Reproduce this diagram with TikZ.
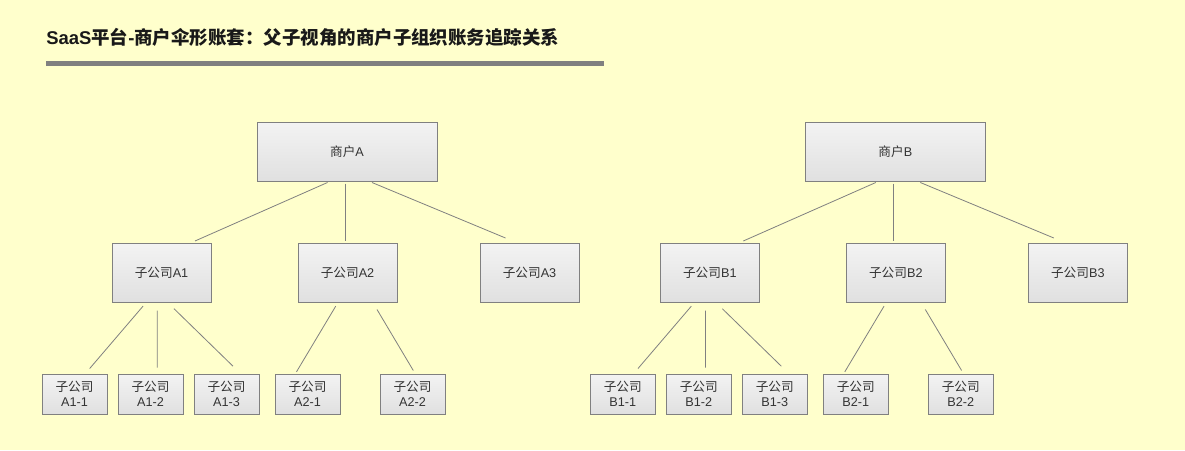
\documentclass[tikz,border=0pt]{standalone}
\usepackage{fontspec}
\setmainfont{Liberation Sans}
\newfontfamily\cjk{Noto Sans CJK SC}
\usetikzlibrary{calc}
\definecolor{paper}{HTML}{FFFFCC}
\definecolor{boxline}{HTML}{808080}
\definecolor{boxtop}{HTML}{F3F3F3}
\definecolor{boxbottom}{HTML}{E0E0E0}
\definecolor{boxtext}{HTML}{333333}
\tikzset{
    % Title
    title/.style={anchor=base west,inner sep=0pt,text=black!90,font=\fontsize{13.85}{16}\selectfont\bfseries},
    title rule/.style={fill=boxline},
    %
    % Boxes
    box/.style={draw=boxline,line width=.75pt,top color=boxtop,bottom color=boxbottom,
        text=boxtext,inner sep=0pt,align=center,font=\fontsize{9.5}{11.25}\selectfont},
    merchant box/.style={box,minimum width=135pt,minimum height=44.25pt},
    sub box/.style={box,minimum width=74.25pt,minimum height=44.25pt},
    leaf box/.style={box,minimum width=48.75pt,minimum height=30pt},
    %
    % Connectors
    link/.style={draw=boxline,line width=.6pt},
}

\begin{document}
\begin{tikzpicture}[x=.75pt,y=-.75pt]
    \fill[paper] (0,0) rectangle (1185,450);
    \node[title] (title) at (46,44) {SaaS{\cjk 平台}-{\cjk 商户伞形账套：父子视角的商户子组织账务追踪关系}};
    \fill[title rule] (46,61) rectangle (604,65.7);
    \foreach \m/\dx in {A/0,B/548.3}{
        \node[merchant box] (m\m) at (347+\dx,151.5) {{\cjk 商户}\m};
        \node[sub box] (s\m1) at (161.5+\dx,272.5) {{\cjk 子公司}\m1};
        \node[sub box] (s\m2) at (347.5+\dx,272.5) {{\cjk 子公司}\m2};
        \node[sub box] (s\m3) at (529.5+\dx,272.5) {{\cjk 子公司}\m3};
        \node[leaf box] (l\m11) at (74.5+\dx,394) {{\cjk 子公司}\\\m1-1};
        \node[leaf box] (l\m12) at (150.5+\dx,394) {{\cjk 子公司}\\\m1-2};
        \node[leaf box] (l\m13) at (226.5+\dx,394) {{\cjk 子公司}\\\m1-3};
        \node[leaf box] (l\m21) at (307.5+\dx,394) {{\cjk 子公司}\\\m2-1};
        \node[leaf box] (l\m22) at (412.5+\dx,394) {{\cjk 子公司}\\\m2-2};
        % merchant to subsidiaries
        \draw[link] ($(m\m.south)+(-19.5,1)$) -- ($(s\m1.north)+(33.5,-1.5)$);
        \draw[link] ($(m\m.south)+(-2,2)$) -- ($(s\m2.north)+(-2.5,-2)$);
        \draw[link] ($(m\m.south)+(25,1)$) -- ($(s\m3.north)+(-24,-4.5)$);
        % subsidiaries to their own
        \draw[link] ($(s\m1.south)+(-18.5,3.7)$) -- ($(l\m11.north)+(15.2,-5)$);
        \draw[link] ($(s\m1.south)+(-4.3,8)$) -- ($(l\m12.north)+(6.7,-6)$);
        \draw[link] ($(s\m1.south)+(12.5,6.2)$) -- ($(l\m13.north)+(6.5,-7.3)$);
        \draw[link] ($(s\m2.south)+(-11.8,3.7)$) -- ($(l\m21.north)+(-11,-1.7)$);
        \draw[link] ($(s\m2.south)+(29.5,7)$) -- ($(l\m22.north)+(0.8,-3)$);
    }
\end{tikzpicture}
\end{document}
